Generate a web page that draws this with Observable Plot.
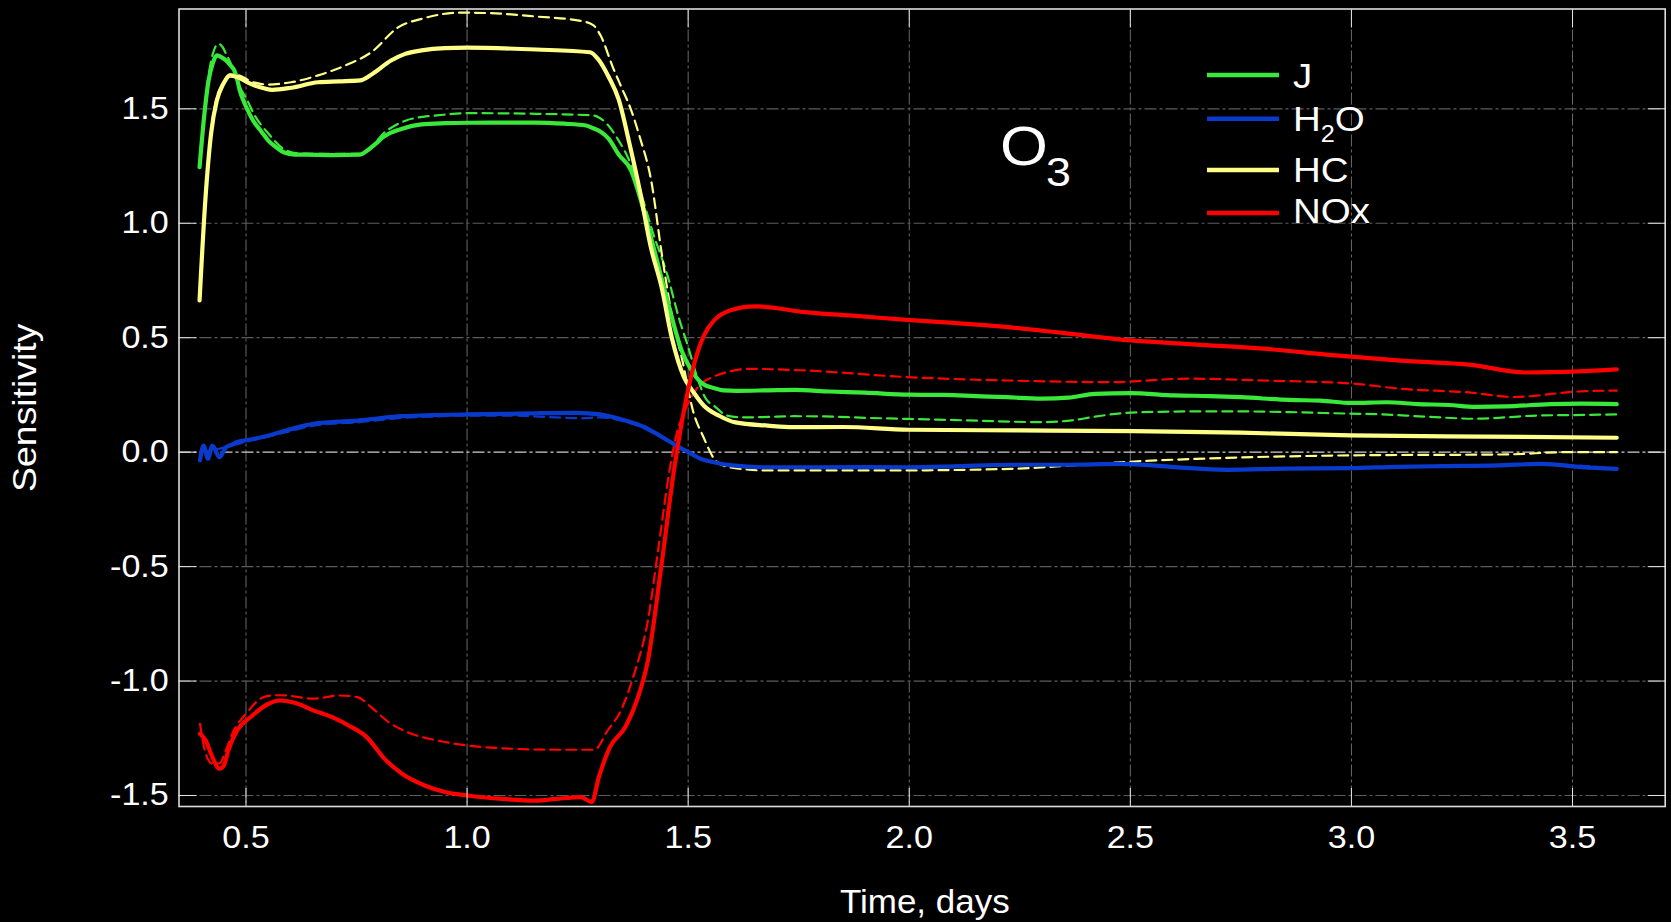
<!DOCTYPE html>
<html>
<head>
<meta charset="utf-8">
<script src="https://cdn.jsdelivr.net/npm/d3@7"></script>
<script src="https://cdn.jsdelivr.net/npm/@observablehq/plot@0.6"></script>
<style>
html, body { margin: 0; padding: 0; background: #000; }
#chart { width: 1671px; height: 922px; overflow: hidden; }
</style>
</head>
<body>
<div id="chart"></div>
<script>
// ---------- tick values ----------
const xTicks = [0.5, 1.0, 1.5, 2.0, 2.5, 3.0, 3.5];
const yTicks = [-1.5, -1.0, -0.5, 0.0, 0.5, 1.0, 1.5];

// ---------- series ----------
const speciesNames = ["J", "H2O", "HC", "NOx"];
const speciesColors = ["#3ae83a", "#0a3acc", "#ffff88", "#ff0000"];

// [time (days), sensitivity] — solid curves
const J_solid = [[0.395,1.245],[0.405,1.46],[0.415,1.62],[0.425,1.70],[0.434,1.733],[0.445,1.725],[0.455,1.711],[0.465,1.69],[0.473,1.67],[0.48,1.63],[0.486,1.58],[0.5,1.51],[0.516,1.449],[0.535,1.40],[0.551,1.36],[0.57,1.33],[0.585,1.31],[0.61,1.30],[0.637,1.30],[0.7,1.298],[0.758,1.30],[0.776,1.32],[0.795,1.35],[0.81,1.376],[0.853,1.413],[0.897,1.432],[0.95,1.437],[1.0,1.439],[1.156,1.44],[1.22,1.435],[1.269,1.427],[1.285,1.415],[1.302,1.40],[1.32,1.37],[1.343,1.30],[1.371,1.23],[1.39,1.12],[1.417,0.93],[1.452,0.67],[1.486,0.44],[1.51,0.35],[1.532,0.30],[1.558,0.28],[1.58,0.27],[1.61,0.268],[1.68,0.27],[1.74,0.272],[1.82,0.265],[1.9,0.26],[2.0,0.251],[2.08,0.25],[2.15,0.245],[2.22,0.24],[2.3,0.234],[2.36,0.238],[2.42,0.255],[2.5,0.258],[2.6,0.248],[2.68,0.245],[2.75,0.24],[2.86,0.228],[2.93,0.225],[3.0,0.215],[3.08,0.218],[3.15,0.21],[3.22,0.206],[3.28,0.198],[3.35,0.2],[3.45,0.21],[3.52,0.212],[3.6,0.21]];
const H2O_solid = [[0.396,-0.036],[0.404,0.029],[0.414,-0.029],[0.424,0.029],[0.44,-0.022],[0.455,0.022],[0.465,0.03],[0.48,0.044],[0.51,0.055],[0.551,0.073],[0.6,0.1],[0.652,0.124],[0.7,0.132],[0.752,0.138],[0.8,0.148],[0.853,0.157],[0.92,0.162],[1.0,0.165],[1.08,0.167],[1.156,0.17],[1.247,0.172],[1.3,0.165],[1.358,0.138],[1.4,0.11],[1.429,0.08],[1.455,0.05],[1.479,0.022],[1.505,-0.005],[1.528,-0.029],[1.56,-0.045],[1.6,-0.058],[1.668,-0.066],[1.8,-0.066],[1.9,-0.065],[1.998,-0.066],[2.1,-0.062],[2.228,-0.055],[2.35,-0.055],[2.48,-0.051],[2.6,-0.065],[2.718,-0.077],[2.85,-0.072],[2.998,-0.07],[3.1,-0.064],[3.208,-0.061],[3.33,-0.058],[3.432,-0.051],[3.52,-0.065],[3.6,-0.073]];
const HC_solid = [[0.395,0.663],[0.408,1.099],[0.421,1.391],[0.434,1.536],[0.447,1.602],[0.464,1.645],[0.481,1.638],[0.507,1.612],[0.53,1.595],[0.559,1.583],[0.602,1.592],[0.663,1.616],[0.71,1.62],[0.758,1.624],[0.784,1.65],[0.828,1.711],[0.86,1.74],[0.897,1.755],[0.95,1.765],[1.0,1.767],[1.157,1.759],[1.278,1.747],[1.295,1.72],[1.32,1.64],[1.343,1.54],[1.367,1.35],[1.392,1.13],[1.415,0.90],[1.44,0.72],[1.463,0.50],[1.49,0.33],[1.511,0.265],[1.535,0.204],[1.571,0.158],[1.607,0.13],[1.68,0.116],[1.738,0.109],[1.85,0.11],[1.998,0.098],[2.25,0.095],[2.508,0.092],[2.75,0.085],[2.998,0.073],[3.3,0.068],[3.6,0.063]];
const NOx_solid = [[0.396,-1.23],[0.409,-1.26],[0.424,-1.332],[0.44,-1.383],[0.45,-1.369],[0.46,-1.303],[0.48,-1.216],[0.51,-1.158],[0.551,-1.099],[0.576,-1.085],[0.61,-1.095],[0.652,-1.128],[0.7,-1.162],[0.732,-1.194],[0.773,-1.245],[0.813,-1.339],[0.853,-1.405],[0.904,-1.456],[0.95,-1.485],[1.0,-1.50],[1.08,-1.515],[1.156,-1.522],[1.2,-1.515],[1.257,-1.507],[1.282,-1.529],[1.298,-1.42],[1.323,-1.289],[1.358,-1.201],[1.384,-1.085],[1.409,-0.91],[1.439,-0.502],[1.469,-0.066],[1.495,0.226],[1.511,0.367],[1.535,0.507],[1.559,0.577],[1.578,0.605],[1.607,0.626],[1.636,0.636],[1.655,0.637],[1.763,0.612],[1.88,0.595],[1.994,0.578],[2.1,0.565],[2.224,0.546],[2.35,0.52],[2.502,0.488],[2.65,0.47],[2.801,0.452],[2.95,0.425],[3.111,0.40],[3.271,0.381],[3.392,0.348],[3.513,0.353],[3.6,0.362]];

// dashed curves
const J_dashed = [[0.395,1.245],[0.405,1.47],[0.415,1.64],[0.425,1.74],[0.438,1.784],[0.447,1.77],[0.455,1.74],[0.465,1.70],[0.478,1.63],[0.49,1.58],[0.499,1.551],[0.52,1.47],[0.551,1.391],[0.585,1.325],[0.62,1.305],[0.7,1.303],[0.76,1.303],[0.784,1.332],[0.81,1.391],[0.835,1.425],[0.862,1.449],[0.9,1.465],[0.931,1.471],[1.0,1.481],[1.157,1.478],[1.286,1.471],[1.30,1.46],[1.318,1.43],[1.34,1.37],[1.37,1.26],[1.395,1.12],[1.42,0.96],[1.452,0.78],[1.48,0.58],[1.5,0.46],[1.52,0.33],[1.538,0.24],[1.56,0.20],[1.588,0.16],[1.62,0.152],[1.668,0.153],[1.74,0.157],[1.808,0.156],[1.9,0.15],[2.0,0.145],[2.088,0.141],[2.2,0.135],[2.298,0.131],[2.368,0.139],[2.42,0.155],[2.48,0.17],[2.56,0.176],[2.648,0.178],[2.75,0.178],[2.858,0.175],[2.96,0.17],[3.068,0.165],[3.17,0.155],[3.278,0.146],[3.35,0.152],[3.418,0.16],[3.5,0.162],[3.6,0.165]];
const H2O_dashed = [[0.40,0.0],[0.45,0.02],[0.5,0.045],[0.55,0.068],[0.6,0.092],[0.65,0.115],[0.7,0.125],[0.752,0.13],[0.8,0.14],[0.853,0.15],[0.92,0.155],[1.0,0.16],[1.1,0.16],[1.2,0.152],[1.26,0.148],[1.3,0.152],[1.358,0.133],[1.4,0.105],[1.429,0.076],[1.479,0.02],[1.528,-0.03],[1.6,-0.058],[1.668,-0.066],[2.0,-0.066],[2.228,-0.056],[2.48,-0.052],[2.718,-0.075],[3.0,-0.07],[3.208,-0.062],[3.432,-0.053],[3.6,-0.072]];
const HC_dashed = [[0.395,0.663],[0.408,1.10],[0.421,1.40],[0.434,1.55],[0.447,1.61],[0.464,1.65],[0.48,1.648],[0.516,1.616],[0.551,1.606],[0.602,1.616],[0.663,1.646],[0.724,1.689],[0.784,1.748],[0.845,1.857],[0.897,1.893],[0.983,1.92],[1.05,1.918],[1.157,1.903],[1.26,1.883],[1.286,1.864],[1.302,1.82],[1.33,1.68],[1.35,1.59],[1.37,1.50],[1.39,1.38],[1.417,1.18],[1.44,0.87],[1.463,0.60],[1.487,0.40],[1.511,0.18],[1.535,0.064],[1.559,-0.03],[1.583,-0.061],[1.631,-0.075],[1.668,-0.08],[1.948,-0.08],[2.228,-0.073],[2.368,-0.058],[2.508,-0.041],[2.718,-0.025],[2.998,-0.014],[3.348,-0.01],[3.488,0.0],[3.6,0.0]];
const NOx_dashed = [[0.396,-1.187],[0.409,-1.318],[0.424,-1.361],[0.44,-1.36],[0.455,-1.30],[0.469,-1.23],[0.5,-1.143],[0.54,-1.07],[0.565,-1.062],[0.591,-1.063],[0.652,-1.077],[0.712,-1.063],[0.752,-1.07],[0.783,-1.114],[0.823,-1.18],[0.874,-1.23],[0.934,-1.26],[1.0,-1.281],[1.106,-1.296],[1.2,-1.30],[1.288,-1.30],[1.318,-1.216],[1.348,-1.128],[1.378,-0.968],[1.409,-0.735],[1.434,-0.40],[1.459,-0.066],[1.474,0.08],[1.49,0.17],[1.51,0.25],[1.53,0.30],[1.555,0.328],[1.6,0.355],[1.636,0.364],[1.763,0.357],[1.994,0.328],[2.224,0.313],[2.455,0.306],[2.628,0.321],[2.80,0.313],[3.0,0.30],[3.111,0.277],[3.271,0.26],[3.366,0.241],[3.513,0.265],[3.6,0.269]];

// annotation text
const speciesLabel = {main: "O", sub: "3", t: 2.205, v: 1.2525};
const xLabel = "Time, days";
const yLabel = "Sensitivity";

// ---------- build tables ----------
function rows(arr, species) { return arr.map(([t, v]) => ({t, v, species})); }
const solidRows = [].concat(rows(J_solid, "J"), rows(H2O_solid, "H2O"), rows(HC_solid, "HC"), rows(NOx_solid, "NOx"));
const dashedRows = [].concat(rows(J_dashed, "J"), rows(H2O_dashed, "H2O"), rows(HC_dashed, "HC"), rows(NOx_dashed, "NOx"));

const FONT = "'Liberation Sans', Arial, Helvetica, sans-serif";
const fmt = d => d.toFixed(1);

const chart = Plot.plot({
  width: 1671,
  height: 922,
  marginLeft: 178.5,
  marginRight: 6.3,
  marginTop: 8.5,
  marginBottom: 116,
  style: {background: "#000", color: "#fff", fontFamily: FONT, fontSize: "31px"},
  x: {domain: [0.3485, 3.7096]},
  y: {domain: [-1.548, 1.936]},
  color: {domain: speciesNames, range: speciesColors},
  marks: [
    Plot.gridX(xTicks, {stroke: "#6a6a6a", strokeOpacity: 1, strokeWidth: 1, strokeDasharray: "12,3,3,3"}),
    Plot.gridY(yTicks.filter(d => d !== 0), {stroke: "#5c5c5c", strokeOpacity: 1, strokeWidth: 1.2, strokeDasharray: "12,3,3,3"}),
    Plot.ruleY([0], {stroke: "#d0d0d0", strokeWidth: 1.4, strokeDasharray: "12,3,3,3"}),
    Plot.line(dashedRows, {x: "t", y: "v", z: "species", stroke: "species", strokeWidth: 2.2, strokeDasharray: "10,6", curve: "monotone-x"}),
    Plot.line(solidRows, {x: "t", y: "v", z: "species", stroke: "species", strokeWidth: 4.2, curve: "monotone-x"}),
    Plot.frame({stroke: "#dcdcdc", strokeWidth: 1.6}),
    Plot.axisX(xTicks, {anchor: "bottom", tickSize: -18, tickPadding: 37.7, tickFormat: fmt, label: null, stroke: "#e6e6e6", fill: "#fff", fontSize: 31}),
    Plot.axisX(xTicks, {anchor: "top", tickSize: -18, tickFormat: () => "", label: null, stroke: "#e6e6e6"}),
    Plot.axisY(yTicks, {anchor: "left", tickSize: -18, tickPadding: 28.2, tickFormat: fmt, label: null, stroke: "#e6e6e6", fill: "#fff", fontSize: 31}),
    Plot.axisY(yTicks, {anchor: "right", tickSize: -18, tickFormat: () => "", label: null, stroke: "#e6e6e6"}),
    Plot.text([xLabel], {text: d => d, frameAnchor: "bottom", textAnchor: "middle", dx: 2.7, dy: 106.3, lineAnchor: "bottom", fontSize: 33, fill: "#fff"}),
    Plot.text([yLabel], {text: d => d, frameAnchor: "left", textAnchor: "middle", dx: 35 - 178.5, rotate: -90, lineAnchor: "bottom", fontSize: 34, fill: "#fff"}),
    Plot.text([speciesLabel], {x: "t", y: "v", text: "main", textAnchor: "start", lineAnchor: "bottom", fontSize: 55, fill: "#fff"}),
    Plot.text([speciesLabel], {x: "t", y: "v", text: "sub", textAnchor: "start", lineAnchor: "bottom", fontSize: 40, dx: 46, dy: 21, fill: "#fff"})
  ]
});

document.getElementById("chart").appendChild(chart);

// widen glyphs slightly (the reference face is wider than Liberation Sans)
const svg = d3.select(chart);
const widen = {"Time, days": 1.06, "Sensitivity": 1.1, "O": 1.12, "3": 1.12};
svg.selectAll("g[aria-label='x-axis tick label'] text, g[aria-label='y-axis tick label'] text")
  .attr("transform", function () { return (this.getAttribute("transform") || "") + " scale(1.1,1)"; });
svg.selectAll("g[aria-label='text'] text").each(function () {
  const k = widen[this.textContent];
  if (k) this.setAttribute("transform", (this.getAttribute("transform") || "") + ` scale(${k},1)`);
});

// ---------- legend (inside the plot, top right) ----------
const legendRows = [
  {name: "J", lineY: 75, base: 88},
  {name: "H2O", lineY: 118.7, base: 130.7},
  {name: "HC", lineY: 170, base: 181.7},
  {name: "NOx", lineY: 213, base: 223.3}
];
const lg = svg.append("g").attr("font-family", FONT).attr("fill", "#fff").attr("text-anchor", "start");
legendRows.forEach(r => {
  const c = speciesColors[speciesNames.indexOf(r.name)];
  lg.append("line").attr("x1", 1207).attr("x2", 1279).attr("y1", r.lineY).attr("y2", r.lineY)
    .attr("stroke", c).attr("stroke-width", 4.5);
  const t = lg.append("text").attr("transform", `translate(1293,${r.base}) scale(1.1,1)`)
    .attr("font-size", 35).attr("text-anchor", "start");
  if (r.name === "H2O") {
    t.append("tspan").text("H");
    t.append("tspan").attr("font-size", 23).attr("dy", 11).text("2");
    t.append("tspan").attr("dy", -11).text("O");
  } else {
    t.text(r.name);
  }
});
</script>
</body>
</html>
